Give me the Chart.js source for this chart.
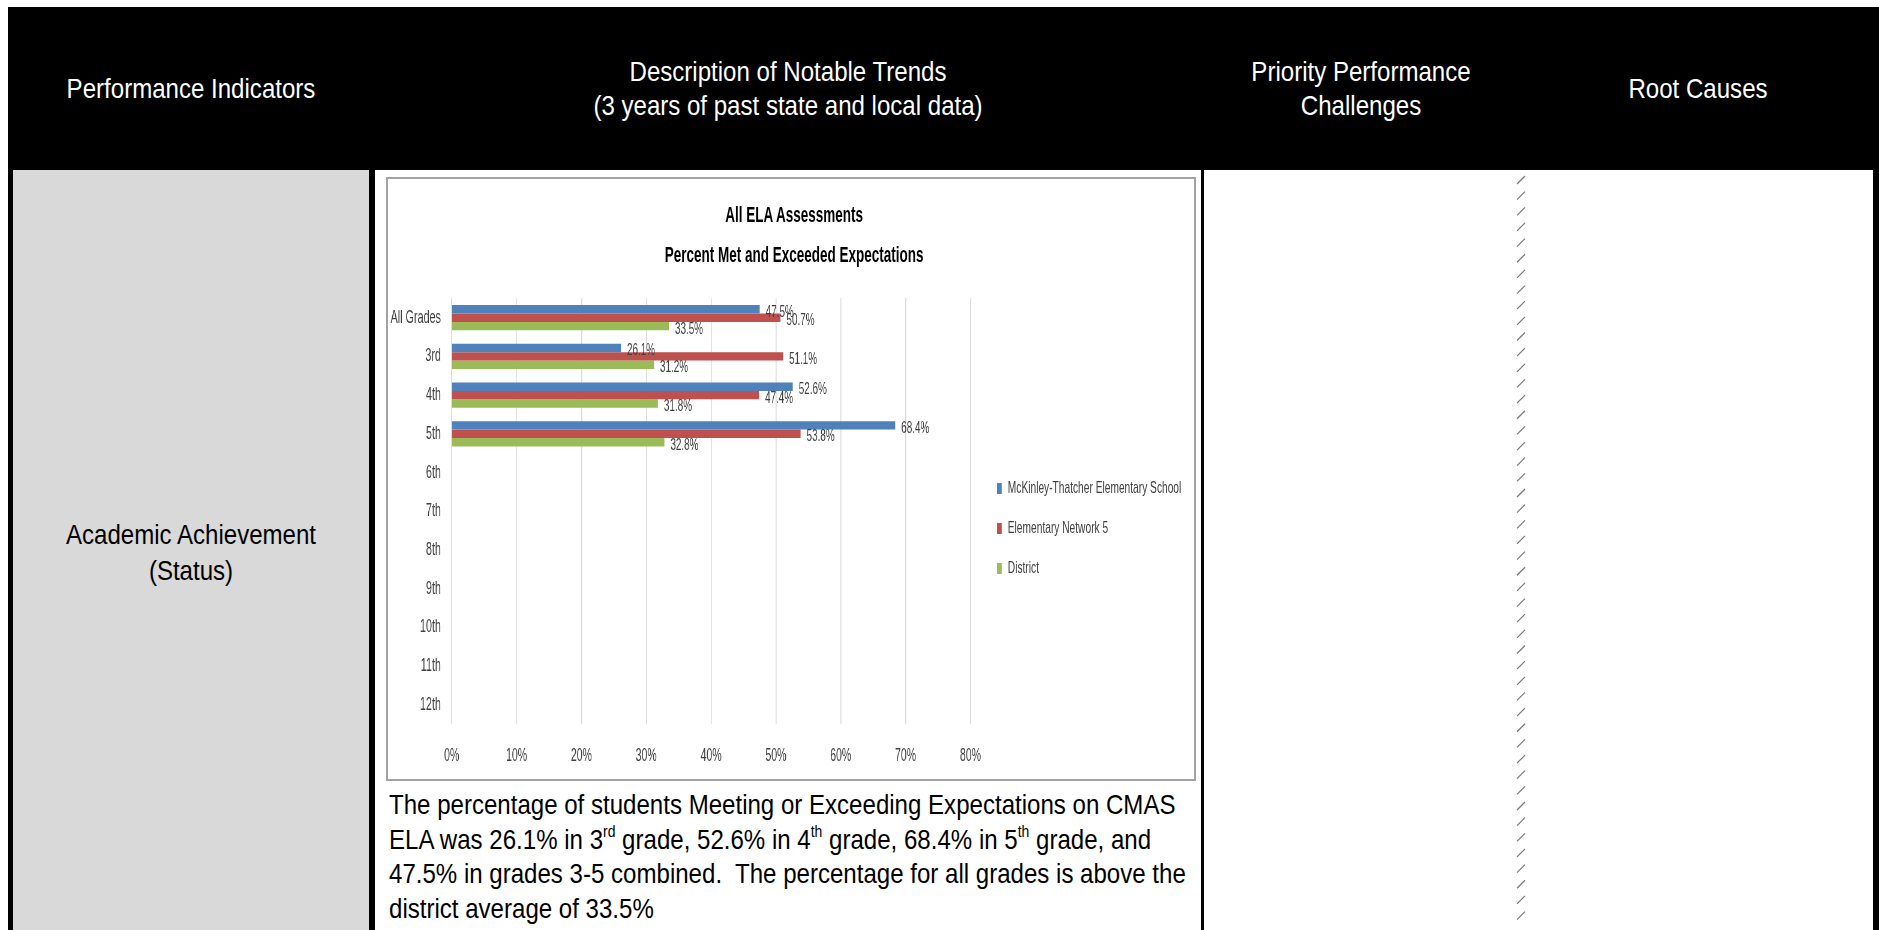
<!DOCTYPE html>
<html>
<head>
<meta charset="utf-8">
<script src="https://cdn.jsdelivr.net/npm/chart.js@4"></script>
<style>
  html, body { margin:0; padding:0; width:1879px; height:930px; overflow:hidden; background:#fff; }
  .abs { position:absolute; }
  .t { position:absolute; white-space:nowrap; font-family:'Liberation Sans', Arial, sans-serif;
       font-size:27.5px; line-height:34.6px; }
  .c { text-align:center; transform:translateX(-50%) scaleX(0.875); }
  .l { transform-origin:0 0; transform:scaleX(0.875); }
  .hd { color:#fff; }
  sup { font-size:0.58em; line-height:0; vertical-align:0.75em; }
  #plotWrap { position:absolute; left:388px; top:179px; width:1343px; height:600px;
              transform-origin:0 0; transform:scaleX(0.6); }
  #plotWrap canvas { position:absolute; left:0; top:0; }
  .ttl { position:absolute; white-space:nowrap; font-family:'Liberation Sans', Arial, sans-serif;
         font-weight:bold; font-size:22.5px; line-height:39.5px; color:#000; text-align:center;
         transform:translateX(-50%); }
  .lg { position:absolute; height:20px; display:flex; align-items:center; white-space:nowrap;
        font-family:'Liberation Sans', Arial, sans-serif; font-size:17px; color:#404040; }
  .lg i { display:inline-block; width:8px; height:11px; margin-right:10px; }
</style>
</head>
<body>
<!-- table frame: black fill, cells laid on top leave the borders -->
<div class="abs" style="left:8px;top:7px;width:1871px;height:923px;background:#000"></div>
<div class="abs" style="left:13px;top:170px;width:356px;height:760px;background:#d9d9d9"></div>
<div class="abs" style="left:375px;top:170px;width:826px;height:760px;background:#fff"></div>
<div class="abs" style="left:1204px;top:170px;width:669px;height:760px;background:#fff"></div>

<!-- header row -->
<div class="t c hd" style="left:191px;top:71.5px">Performance Indicators</div>
<div class="t c hd" style="left:788px;top:54.5px">Description of Notable Trends<br>(3 years of past state and local data)</div>
<div class="t c hd" style="left:1361px;top:54.5px">Priority Performance<br>Challenges</div>
<div class="t c hd" style="left:1698px;top:71.5px">Root Causes</div>

<!-- first body row -->
<div class="t c" style="left:191px;top:517px;color:#000;line-height:35.5px">Academic Achievement<br>(Status)</div>

<svg id="divider" class="abs" style="left:1510px;top:170px" width="24" height="760"></svg>

<div class="abs" style="left:386px;top:177px;width:810px;height:603.5px;box-sizing:border-box;border:2px solid #a3a3a3;background:#fff"></div>
<div id="plotWrap">
  <canvas id="chart" width="1343" height="600" style="width:1343px;height:600px"></canvas>
  <div class="ttl" style="left:677px;top:16px">All ELA Assessments<br>Percent Met and Exceeded Expectations</div>
  <div id="legend"></div>
</div>

<div class="t l" style="left:389px;top:788px;color:#000">The percentage of students Meeting or Exceeding Expectations on CMAS<br>ELA was 26.1% in 3<sup>rd</sup> grade, 52.6% in 4<sup>th</sup> grade, 68.4% in 5<sup>th</sup> grade, and<br>47.5% in grades 3-5 combined.&nbsp; The percentage for all grades is above the<br>district average of 33.5%</div>

<script>
// Grade levels on the category axis
const gradeLabels = ['All Grades', '3rd', '4th', '5th', '6th', '7th', '8th', '9th', '10th', '11th', '12th'];

// Percent met and exceeded expectations, per grade
const schoolValues   = [47.5, 26.1, 52.6, 68.4, null, null, null, null, null, null, null];
const networkValues  = [50.7, 51.1, 47.4, 53.8, null, null, null, null, null, null, null];
const districtValues = [33.5, 31.2, 31.8, 32.8, null, null, null, null, null, null, null];

const seriesNames  = ['McKinley-Thatcher Elementary School', 'Elementary Network 5', 'District'];
const seriesColors = ['#4f81bd', '#c0504d', '#9bbb59'];

// Percent axis ticks
const percentMin = 0;
const percentMax = 80;
const percentStep = 10;

const FONT = "'Liberation Sans', Arial, sans-serif";

// dashed column divider on the right side of the table
(function () {
  const svg = document.getElementById('divider');
  const ns = 'http://www.w3.org/2000/svg';
  for (let y = 6; y < 752; y += 15.65) {
    const ln = document.createElementNS(ns, 'line');
    ln.setAttribute('x1', 7); ln.setAttribute('y1', y + 8);
    ln.setAttribute('x2', 15); ln.setAttribute('y2', y);
    ln.setAttribute('stroke', '#7a7a7a'); ln.setAttribute('stroke-width', '1.2');
    svg.appendChild(ln);
  }
})();

// legend entries
(function () {
  const box = document.getElementById('legend');
  const centers = [309.3, 349.3, 389.3];
  seriesNames.forEach((name, i) => {
    const d = document.createElement('div');
    d.className = 'lg';
    d.style.left = '1015px';
    d.style.top = (centers[i] - 10) + 'px';
    const sw = document.createElement('i');
    sw.style.background = seriesColors[i];
    d.appendChild(sw);
    d.appendChild(document.createTextNode(name));
    box.appendChild(d);
  });
})();

// value labels at the end of every bar
const valueLabels = {
  id: 'valueLabels',
  afterDatasetsDraw(chart) {
    const ctx = chart.ctx;
    ctx.save();
    ctx.font = '16.5px ' + FONT;
    ctx.fillStyle = '#404040';
    ctx.textAlign = 'left';
    ctx.textBaseline = 'middle';
    chart.data.datasets.forEach((ds, i) => {
      const meta = chart.getDatasetMeta(i);
      meta.data.forEach((bar, j) => {
        const v = ds.data[j];
        if (v === null || v === undefined) return;
        ctx.fillText(v.toFixed(1) + '%', bar.x + 10, bar.y + 3);
      });
    });
    ctx.restore();
  }
};

const datasetValues = [schoolValues, networkValues, districtValues];

new Chart(document.getElementById('chart'), {
  type: 'bar',
  data: {
    labels: gradeLabels,
    datasets: datasetValues.map((vals, i) => ({
      label: seriesNames[i],
      data: vals,
      backgroundColor: seriesColors[i],
      borderWidth: 0,
      categoryPercentage: 0.655,
      barPercentage: 1.0
    }))
  },
  options: {
    indexAxis: 'y',
    responsive: false,
    devicePixelRatio: 1,
    animation: false,
    layout: { padding: { left: 0, top: 119.3, right: 372.3, bottom: 0 } },
    plugins: {
      legend: { display: false },
      title: { display: false },
      tooltip: { enabled: false }
    },
    scales: {
      x: {
        min: percentMin,
        max: percentMax,
        grid: { color: '#d9d9d9', lineWidth: 1.6, drawTicks: false },
        border: { display: false },
        ticks: {
          stepSize: percentStep,
          autoSkip: false,
          maxRotation: 0,
          padding: 21,
          color: '#404040',
          font: { family: FONT, size: 17.5 },
          callback: v => v + '%'
        },
        afterFit(scale) { scale.height = 54.7; }
      },
      y: {
        grid: { display: false, drawTicks: false },
        border: { display: false },
        ticks: {
          autoSkip: false,
          padding: 18,
          color: '#404040',
          font: { family: FONT, size: 18 }
        },
        afterFit(scale) { scale.width = 106.2; }
      }
    }
  },
  plugins: [valueLabels]
});
</script>
</body>
</html>
